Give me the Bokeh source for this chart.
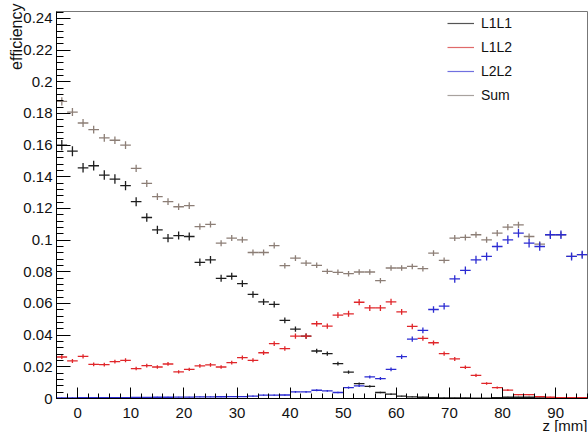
import numpy as np
from bokeh.plotting import figure
from bokeh.models import (Range1d, SingleIntervalTicker, CustomJSTickFormatter, Title,
                          Legend, LegendItem, ColumnDataSource)
from bokeh.embed import file_html
from bokeh.resources import INLINE

# ---------------- data ----------------
z_centers = [-3, -1, 1, 3, 5, 7, 9, 11, 13, 15, 17, 19, 21, 23, 25, 27, 29, 31, 33, 35,
             37, 39, 41, 43, 45, 47, 49, 51, 53, 55, 57, 59, 61, 63, 65, 67, 69, 71, 73, 75,
             77, 79, 81, 83, 85, 87, 89, 91, 93, 95]
bin_half_width = 1.0

eff_L1L1 = [0.1600, 0.1562, 0.1457, 0.1470, 0.1411, 0.1386, 0.1344, 0.1243, 0.1143, 0.1065,
            0.1013, 0.1029, 0.1023, 0.0860, 0.0876, 0.0759, 0.0772, 0.0725, 0.0657, 0.0610,
            0.0594, 0.0493, 0.0438, 0.0394, 0.0300, 0.0283, 0.0220, 0.0166, 0.0094, 0.0077,
            0.0038, 0.0027, 0.0015, 0.0010, 0.0008, 0.0005, 0.0004, 0.0003, 0.0003, 0.0002,
            0.0002, 0.0005, 0.0008, 0.0008, 0.0008, 0.0003, 0.0002, 0.0001, 0.0001, 0.0001]

eff_L1L2 = [0.0262, 0.0237, 0.0266, 0.0216, 0.0214, 0.0233, 0.0241, 0.0189, 0.0208, 0.0199,
            0.0218, 0.0168, 0.0184, 0.0206, 0.0212, 0.0199, 0.0226, 0.0258, 0.0241, 0.0289,
            0.0346, 0.0315, 0.0394, 0.0394, 0.0472, 0.0457, 0.0526, 0.0535, 0.0608, 0.0572,
            0.0572, 0.0610, 0.0547, 0.0455, 0.0380, 0.0352, 0.0283, 0.0250, 0.0197, 0.0146,
            0.0095, 0.0069, 0.0053, 0.0024, 0.0024, 0.0012, 0.0008, 0.0005, 0.0005, 0.0005]

eff_L2L2 = [0.0004, 0.0004, 0.0005, 0.0005, 0.0005, 0.0006, 0.0006, 0.0007, 0.0007, 0.0008,
            0.0008, 0.0009, 0.0009, 0.0010, 0.0010, 0.0011, 0.0012, 0.0012, 0.0015, 0.0021,
            0.0021, 0.0022, 0.0042, 0.0042, 0.0052, 0.0048, 0.0038, 0.0069, 0.0080, 0.0136,
            0.0126, 0.0184, 0.0264, 0.0375, 0.0430, 0.0562, 0.0583, 0.0755, 0.0809, 0.0876,
            0.0897, 0.0960, 0.1002, 0.1044, 0.0981, 0.0960, 0.1034, 0.1034, 0.0897, 0.0908]

eff_Sum = [0.1876, 0.1809, 0.1740, 0.1698, 0.1646, 0.1631, 0.1600, 0.1453, 0.1358, 0.1275,
           0.1243, 0.1211, 0.1218, 0.1086, 0.1100, 0.0981, 0.1013, 0.1002, 0.0922, 0.0922,
           0.0966, 0.0839, 0.0887, 0.0855, 0.0841, 0.0803, 0.0797, 0.0788, 0.0799, 0.0799,
           0.0744, 0.0824, 0.0824, 0.0834, 0.0820, 0.0918, 0.0872, 0.1013, 0.1017, 0.1034,
           0.1002, 0.1044, 0.1082, 0.1096, 0.1023, 0.0975, 0.1034, 0.1034, 0.0897, 0.0908]

# approximate statistical error size (binomial-like) per series
err_scale = {"L1L1": 0.0080, "L1L2": 0.0080, "L2L2": 0.0085, "Sum": 0.0060}

series_names = ["Sum", "L1L1", "L1L2", "L2L2"]
series_vals = {"L1L1": eff_L1L1, "L1L2": eff_L1L2, "L2L2": eff_L2L2, "Sum": eff_Sum}
mark_colors = {"L1L1": "#1e1e1e", "L1L2": "#e0262a", "L2L2": "#2b2bd2", "Sum": "#8c7e76"}
legend_colors = {"L1L1": "#555555", "L1L2": "#e06a6a", "L2L2": "#7070e0", "Sum": "#a8a29e"}
legend_order = ["L1L1", "L1L2", "L2L2", "Sum"]

FONT = "Liberation Sans"
X_MIN, X_MAX = -4, 96
Y_MIN, Y_MAX = 0, 0.2444

p = figure(width=588, height=432, x_range=Range1d(X_MIN, X_MAX), y_range=Range1d(Y_MIN, Y_MAX),
           output_backend="svg", toolbar_location=None,
           min_border_left=56, min_border_right=1, min_border_top=11, min_border_bottom=34)
p.grid.visible = False
p.background_fill_color = "white"
p.border_fill_color = "white"
p.outline_line_color = "#777777"
p.outline_line_width = 1

# x axis
p.xaxis.ticker = SingleIntervalTicker(interval=10, num_minor_ticks=5)
p.xaxis.major_tick_in = 11
p.xaxis.major_tick_out = 0
p.xaxis.minor_tick_in = 5
p.xaxis.minor_tick_out = 0
p.xaxis.axis_line_color = "black"
p.xaxis.major_tick_line_color = "black"
p.xaxis.minor_tick_line_color = "black"
p.xaxis.major_label_text_font = FONT
p.xaxis.major_label_text_font_size = "15px"
p.xaxis.major_label_text_color = "#111111"
p.xaxis.major_label_standoff = 9

# y axis
p.yaxis.ticker = SingleIntervalTicker(interval=0.02, num_minor_ticks=5)
p.yaxis.major_tick_in = 14
p.yaxis.major_tick_out = 0
p.yaxis.minor_tick_in = 7
p.yaxis.minor_tick_out = 0
p.yaxis.axis_line_color = "black"
p.yaxis.major_tick_line_color = "black"
p.yaxis.minor_tick_line_color = "black"
p.yaxis.major_label_text_font = FONT
p.yaxis.major_label_text_font_size = "15px"
p.yaxis.major_label_text_color = "#111111"
p.yaxis.major_label_standoff = 4
p.yaxis.formatter = CustomJSTickFormatter(code="return String(parseFloat(tick.toFixed(4)));")

# histogram points with error bars
for name in series_names:
    y = np.array(series_vals[name])
    x = np.array(z_centers, dtype=float)
    e = err_scale[name] * np.sqrt(y)
    src = ColumnDataSource(dict(x=x, x0=x - bin_half_width, x1=x + bin_half_width,
                                y=y, y0=y - e, y1=y + e))
    c = mark_colors[name]
    p.segment(x0="x0", y0="y", x1="x1", y1="y", source=src, line_color=c, line_width=1.3)
    p.segment(x0="x", y0="y0", x1="x", y1="y1", source=src, line_color=c, line_width=1.3)

# legend (placeholder renderers with no visible data, styled like ROOT legend entries)
items = []
for name in legend_order:
    dummy = ColumnDataSource(dict(x=[np.nan], y=[np.nan]))
    ln = p.line("x", "y", source=dummy, line_color=legend_colors[name], line_width=1.2)
    items.append(LegendItem(label=name, renderers=[ln]))

legend = Legend(items=items, location=(391, 293), orientation="vertical",
                border_line_color=None, background_fill_alpha=0,
                glyph_width=27, glyph_height=20, label_height=20, label_standoff=7,
                spacing=4, padding=0, margin=0,
                label_text_font=FONT, label_text_font_size="14px", label_text_color="#111111")
p.add_layout(legend)

# axis titles (ROOT style: right-aligned at the axis ends)
ytitle = Title(text="efficiency", align="right", vertical_align="middle", offset=-8, standoff=-11,
               text_font=FONT, text_font_size="16px", text_font_style="normal",
               text_color="#111111")
p.add_layout(ytitle, "left")
xtitle = Title(text="z [mm]", align="right", vertical_align="top", offset=0, standoff=-8,
               text_font=FONT, text_font_size="15px", text_font_style="normal",
               text_color="#111111")
p.add_layout(xtitle, "below")

open("out.html", "w").write(file_html(p, INLINE))
